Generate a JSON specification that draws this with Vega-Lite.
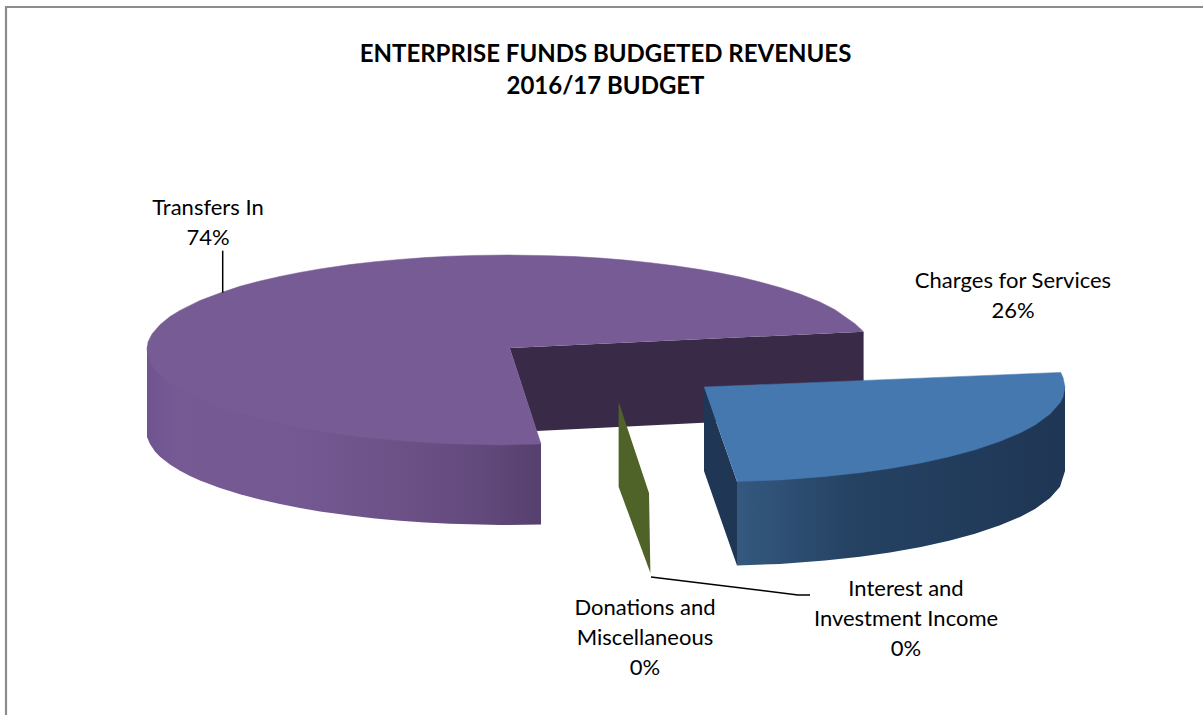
{
 "$schema":"https://vega.github.io/schema/vega-lite/v6.json",
 "width":1203,"height":715,"padding":0,"autosize":{"type":"none"},
 "background":"white",
 "view":{"stroke":null},
 "title":{"text":["ENTERPRISE FUNDS BUDGETED REVENUES","2016/17 BUDGET"],"font":"Lato","fontSize":24,"fontWeight":"bold","color":"#000000","anchor":"middle","lineHeight":32,"offset":0,"dy":99,"dx":4},
 "config":{"text":{"font":"Lato"}},
 "datasets":{
  "frame":[{"i":0,"x":6,"y":715},{"i":1,"x":6,"y":7},{"i":2,"x":1203,"y":7}],
  "purpleSide":[{"i":0,"x":147,"y":346},{"i":1,"x":147,"y":437},{"i":2,"x":150,"y":444},{"i":3,"x":155,"y":451.5},{"i":4,"x":160,"y":456.7},{"i":5,"x":170,"y":464.6},{"i":6,"x":180,"y":470.8},{"i":7,"x":190,"y":476},{"i":8,"x":200,"y":480.5},{"i":9,"x":220,"y":488},{"i":10,"x":240,"y":494.3},{"i":11,"x":260,"y":499.6},{"i":12,"x":280,"y":504},{"i":13,"x":300,"y":508},{"i":14,"x":320,"y":511.4},{"i":15,"x":350,"y":515.6},{"i":16,"x":375,"y":518.4},{"i":17,"x":400,"y":520.7},{"i":18,"x":425,"y":522.4},{"i":19,"x":450,"y":523.8},{"i":20,"x":500,"y":525},{"i":21,"x":541,"y":524.6},{"i":22,"x":541,"y":444}],
  "purpleInner":[{"i":0,"x":509.6,"y":348},{"i":1,"x":863.6,"y":331.7},{"i":2,"x":863.6,"y":415},{"i":3,"x":536.5,"y":431}],
  "purpleTop":[{"i":0,"x":863.6,"y":331.7},{"i":1,"x":855,"y":323.8},{"i":2,"x":835,"y":309.7},{"i":3,"x":820,"y":302},{"i":4,"x":800,"y":294},{"i":5,"x":780,"y":287.5},{"i":6,"x":760,"y":282},{"i":7,"x":740,"y":277},{"i":8,"x":720,"y":273},{"i":9,"x":700,"y":269.5},{"i":10,"x":675,"y":265.8},{"i":11,"x":650,"y":262.7},{"i":12,"x":625,"y":260.1},{"i":13,"x":600,"y":258},{"i":14,"x":575,"y":256.6},{"i":15,"x":550,"y":255.7},{"i":16,"x":508,"y":255},{"i":17,"x":475,"y":255.4},{"i":18,"x":450,"y":256.2},{"i":19,"x":425,"y":257.6},{"i":20,"x":400,"y":259.4},{"i":21,"x":375,"y":261.7},{"i":22,"x":350,"y":264.6},{"i":23,"x":320,"y":268.9},{"i":24,"x":300,"y":272.4},{"i":25,"x":280,"y":276.4},{"i":26,"x":260,"y":281},{"i":27,"x":240,"y":286.3},{"i":28,"x":220,"y":293},{"i":29,"x":200,"y":300.5},{"i":30,"x":180,"y":310.4},{"i":31,"x":170,"y":316.6},{"i":32,"x":160,"y":324.7},{"i":33,"x":152,"y":334},{"i":34,"x":148,"y":342},{"i":35,"x":147,"y":350},{"i":36,"x":150,"y":362},{"i":37,"x":155,"y":370},{"i":38,"x":160,"y":375},{"i":39,"x":170,"y":383.4},{"i":40,"x":180,"y":389.6},{"i":41,"x":190,"y":395},{"i":42,"x":200,"y":399.5},{"i":43,"x":220,"y":407},{"i":44,"x":240,"y":413.7},{"i":45,"x":260,"y":419},{"i":46,"x":280,"y":423.6},{"i":47,"x":300,"y":427.6},{"i":48,"x":320,"y":431},{"i":49,"x":350,"y":435.4},{"i":50,"x":375,"y":438.4},{"i":51,"x":400,"y":440.6},{"i":52,"x":425,"y":442.4},{"i":53,"x":450,"y":443.8},{"i":54,"x":500,"y":445},{"i":55,"x":541,"y":444},{"i":56,"x":509.6,"y":348}],
  "greenSlice":[{"i":0,"x":618.6,"y":401.7},{"i":1,"x":649,"y":493},{"i":2,"x":650.4,"y":573},{"i":3,"x":618.6,"y":486.7}],
  "blueLeft":[{"i":0,"x":704,"y":387},{"i":1,"x":737,"y":481.6},{"i":2,"x":737,"y":565.6},{"i":3,"x":704,"y":471}],
  "blueSide":[{"i":0,"x":737,"y":481.6},{"i":1,"x":1065,"y":387},{"i":2,"x":1065,"y":471},{"i":3,"x":1060,"y":486.8},{"i":4,"x":1050,"y":498},{"i":5,"x":1035,"y":508.9},{"i":6,"x":1020,"y":516.9},{"i":7,"x":1000,"y":525.3},{"i":8,"x":975,"y":533.8},{"i":9,"x":950,"y":540.5},{"i":10,"x":921,"y":547},{"i":11,"x":890,"y":552.4},{"i":12,"x":860,"y":556.7},{"i":13,"x":825,"y":560.5},{"i":14,"x":780,"y":563.9},{"i":15,"x":737,"y":565.6}],
  "blueTop":[{"i":0,"x":704,"y":387},{"i":1,"x":1060.7,"y":372.4},{"i":2,"x":1063,"y":377.5},{"i":3,"x":1065,"y":387},{"i":4,"x":1063,"y":397},{"i":5,"x":1060,"y":402.8},{"i":6,"x":1050,"y":414},{"i":7,"x":1035,"y":424.9},{"i":8,"x":1020,"y":432.9},{"i":9,"x":1000,"y":441.3},{"i":10,"x":975,"y":449.8},{"i":11,"x":950,"y":456.5},{"i":12,"x":921,"y":463},{"i":13,"x":890,"y":468.4},{"i":14,"x":860,"y":472.7},{"i":15,"x":825,"y":476.5},{"i":16,"x":780,"y":479.9},{"i":17,"x":737,"y":481.6}],
  "leaders":[{"k":"Transfers In","i":0,"x":222.7,"y":250.7},{"k":"Transfers In","i":1,"x":222.7,"y":292.7},{"k":"Interest","i":0,"x":651,"y":577},{"k":"Interest","i":1,"x":798,"y":595},{"k":"Interest","i":2,"x":810,"y":595}],
  "slices":[
   {"category":"Transfers In","share":74,"label":"Transfers In\n74%","x":208,"y":198},
   {"category":"Charges for Services","share":26,"label":"Charges for Services\n26%","x":1013,"y":271},
   {"category":"Interest and Investment Income","share":0,"label":"Interest and\nInvestment Income\n0%","x":906,"y":579},
   {"category":"Donations and Miscellaneous","share":0,"label":"Donations and\nMiscellaneous\n0%","x":645,"y":598}
  ]
 },
 "encoding":{
  "x":{"field":"x","type":"quantitative","scale":{"domain":[0,1203],"nice":false,"zero":false},"axis":null},
  "y":{"field":"y","type":"quantitative","scale":{"domain":[715,0],"nice":false,"zero":false},"axis":null},
  "order":{"field":"i"}
 },
 "layer":[
  {"data":{"name":"frame"},"mark":{"type":"line","color":"#8c8c8c","strokeWidth":2.2}},
  {"data":{"name":"purpleSide"},"mark":{"type":"line","stroke":null,"fill":{"x1":0,"x2":1,"y1":0,"y2":0,"gradient":"linear","stops":[{"offset":0,"color":"#6f5490"},{"offset":0.08,"color":"#765a94"},{"offset":0.39,"color":"#745892"},{"offset":0.64,"color":"#6c5187"},{"offset":0.85,"color":"#62497c"},{"offset":1,"color":"#56406d"}]}}},
  {"data":{"name":"purpleInner"},"mark":{"type":"line","stroke":null,"fill":"#392a47"}},
  {"data":{"name":"purpleTop"},"mark":{"type":"line","stroke":"#775b95","strokeWidth":0.5,"fill":"#775b95"}},
  {"data":{"name":"greenSlice"},"mark":{"type":"line","stroke":null,"fill":"#4f6228"}},
  {"data":{"name":"blueLeft"},"mark":{"type":"line","stroke":null,"fill":"#1f3654"}},
  {"data":{"name":"blueSide"},"mark":{"type":"line","stroke":null,"fill":{"x1":0,"x2":1,"y1":0,"y2":0,"gradient":"linear","stops":[{"offset":0,"color":"#34597f"},{"offset":0.35,"color":"#254263"},{"offset":1,"color":"#1f3654"}]}}},
  {"data":{"name":"blueTop"},"mark":{"type":"line","stroke":"#4678b0","strokeWidth":0.5,"fill":"#4678b0"}},
  {"data":{"name":"leaders"},"mark":{"type":"line","color":"#000000","strokeWidth":1.5},"encoding":{"detail":{"field":"k"}}},
  {"data":{"name":"slices"},"mark":{"type":"text","font":"Lato","fontSize":22,"align":"center","baseline":"top","lineBreak":"\n","lineHeight":30,"color":"#000000"},"encoding":{"text":{"field":"label"},"order":{"value":null}}}
 ]
}
